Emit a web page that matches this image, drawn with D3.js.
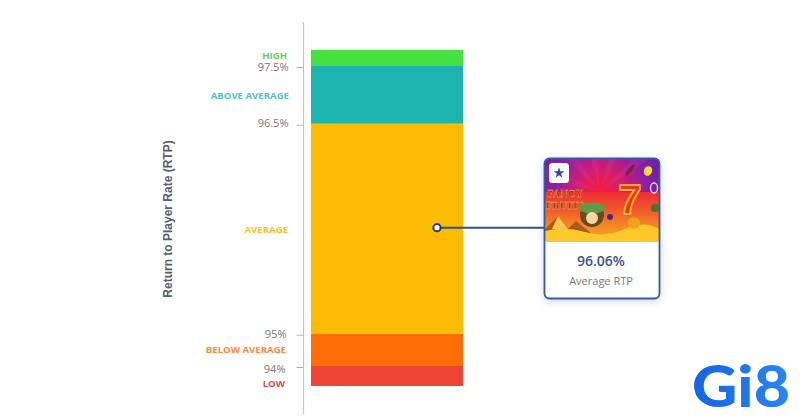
<!DOCTYPE html>
<html>
<head>
<meta charset="utf-8">
<script src="https://cdn.jsdelivr.net/npm/d3@7"></script>
<style>
html, body { margin: 0; padding: 0; background: #fff; overflow: hidden; }
text { font-family: "Open Sans", sans-serif; }
</style>
</head>
<body>
<svg id="chart" width="800" height="419"></svg>
<script>
// 画像から読み取った値
var bandNames = ["LOW", "BELOW AVERAGE", "AVERAGE", "ABOVE AVERAGE", "HIGH"];
var bandStart = [93.4, 94, 95, 96.5, 97.5];
var bandEnd = [94, 95, 96.5, 97.5, 97.8];
var bandColors = ["#ee4435", "#ff6d04", "#fcbc04", "#1eb4b0", "#47e043"];
var labelColors = ["#dc4a4a", "#f98a3a", "#f9bd2b", "#4cc4bf", "#62cf62"];
var tickValues = [94, 95, 96.5, 97.5];
var tickLabels = ["94%", "95%", "96.5%", "97.5%"];
var gameRtp = "96.06%";
var gameBand = "AVERAGE";

var svg = d3.select("#chart");
var defs = svg.append("defs");

// 目盛りが等間隔でないので区分線形にする
var y = d3.scaleLinear()
	.domain([93.4, 94, 95, 96.5, 97.5, 97.8])
	.range([386, 366, 333.7, 123.7, 66, 50]);
var x = d3.scaleBand().domain(["rtp"]).range([311, 463]);

// 帯
svg.selectAll("rect.band")
	.data(bandNames)
	.enter().append("rect")
	.attr("class", "band")
	.attr("x", x("rtp"))
	.attr("width", x.bandwidth())
	.attr("y", function (d, i) { return y(bandEnd[i]); })
	.attr("height", function (d, i) { return y(bandStart[i]) - y(bandEnd[i]); })
	.attr("fill", function (d, i) { return bandColors[i]; });

// 軸
var axis = d3.axisLeft(y)
	.tickValues(tickValues)
	.tickFormat(function (d, i) { return tickLabels[i]; })
	.tickSize(7)
	.tickPadding(8);
var axisG = svg.append("g")
	.attr("transform", "translate(303.5,1)")
	.call(axis);
axisG.select(".domain").remove();
axisG.selectAll("line").attr("stroke", "#b5b5b5");
// ラベルの位置の微調整
var tickShift = { "94%": [-3, 2], "95%": [-2, -1], "96.5%": [0, -1.5], "97.5%": [0, 0] };
axisG.selectAll("text")
	.attr("fill", "#777")
	.attr("transform", function (d, i) { return "translate(" + tickShift[tickLabels[i]].join(",") + ")"; })
	.style("font-size", "11px")
	.style("font-family", "'Open Sans', sans-serif");
svg.append("line")
	.attr("x1", 303.5).attr("x2", 303.5)
	.attr("y1", 22).attr("y2", 414)
	.attr("stroke", "#c4c4c4")
	.attr("stroke-width", 1.2);

// 帯の名前
var labelOffset = { "HIGH": [287, -2.5], "ABOVE AVERAGE": [289, 0.5], "AVERAGE": [288, 0.5], "BELOW AVERAGE": [286, -0.5], "LOW": [285, 7.5] };
svg.selectAll("text.band-label")
	.data(bandNames)
	.enter().append("text")
	.attr("class", "band-label")
	.attr("x", function (d) { return labelOffset[d][0]; })
	.attr("y", function (d, i) { return (y(bandStart[i]) + y(bandEnd[i])) / 2 + labelOffset[d][1]; })
	.attr("dy", "0.35em")
	.attr("text-anchor", "end")
	.attr("fill", function (d, i) { return labelColors[i]; })
	.style("font-size", "9.6px")
	.style("font-weight", 700)
	.text(function (d) { return d; });

// 軸タイトル
svg.append("text")
	.attr("transform", "translate(172,219) rotate(-90)")
	.attr("text-anchor", "middle")
	.attr("fill", "#56606e")
	.style("font-family", "'Liberation Sans', sans-serif")
	.style("font-size", "12px")
	.style("font-weight", 700)
	.text("Return to Player Rate (RTP)");

// マーカーと線
var gi = bandNames.indexOf(gameBand);
var markerY = (y(bandStart[gi]) + y(bandEnd[gi])) / 2 - 1;
svg.append("line")
	.attr("x1", 437).attr("x2", 545)
	.attr("y1", markerY).attr("y2", markerY)
	.attr("stroke", "#2f5292")
	.attr("stroke-width", 2);
svg.append("circle")
	.attr("cx", 437).attr("cy", markerY).attr("r", 3.6)
	.attr("fill", "#fff")
	.attr("stroke", "#1f3a6e")
	.attr("stroke-width", 2);

// カード
var shadow = defs.append("filter").attr("id", "shadow")
	.attr("x", "-20%").attr("y", "-20%").attr("width", "140%").attr("height", "140%");
shadow.append("feDropShadow")
	.attr("dx", 0).attr("dy", 2).attr("stdDeviation", 4)
	.attr("flood-color", "#3b5a9a").attr("flood-opacity", 0.3);

defs.append("clipPath").attr("id", "thumb-clip")
	.append("rect").attr("x", 545).attr("y", 159).attr("width", 114).attr("height", 83).attr("rx", 4);

var bg = defs.append("radialGradient").attr("id", "thumb-bg")
	.attr("gradientUnits", "userSpaceOnUse")
	.attr("cx", 600).attr("cy", 192).attr("r", 72);
[[0, "#f81c34"], [0.3, "#d81c6c"], [0.62, "#9020a0"], [1, "#5c20a8"]].forEach(function (s) {
	bg.append("stop").attr("offset", s[0]).attr("stop-color", s[1]);
});
var ground = defs.append("linearGradient").attr("id", "thumb-ground")
	.attr("x1", 0).attr("y1", 0).attr("x2", 0).attr("y2", 1);
[[0, "#ee2c34"], [0.3, "#f0522c"], [0.7, "#f58a28"], [1, "#f9a825"]].forEach(function (s) {
	ground.append("stop").attr("offset", s[0]).attr("stop-color", s[1]);
});

svg.append("rect")
	.attr("x", 544.5).attr("y", 158.5).attr("width", 115).attr("height", 140).attr("rx", 5)
	.attr("fill", "#fff")
	.attr("filter", "url(#shadow)");

var thumb = svg.append("g").attr("clip-path", "url(#thumb-clip)");
thumb.append("rect").attr("x", 545).attr("y", 159).attr("width", 114).attr("height", 83).attr("fill", "url(#thumb-bg)");
// 光線
d3.range(-165, -15, 30).forEach(function (deg) {
	var a0 = deg * Math.PI / 180, a1 = (deg + 11) * Math.PI / 180;
	thumb.append("path")
		.attr("d", "M600,192L" + (600 + 120 * Math.cos(a0)) + "," + (192 + 120 * Math.sin(a0)) +
			"L" + (600 + 120 * Math.cos(a1)) + "," + (192 + 120 * Math.sin(a1)) + "Z")
		.attr("fill", "#d060e0")
		.attr("opacity", 0.12);
});
thumb.append("rect").attr("x", 545).attr("y", 192).attr("width", 114).attr("height", 50).attr("fill", "url(#thumb-ground)");
// ピラミッド
thumb.append("path").attr("d", "M545,229L558,216L568,229L576,221L592,234L545,234Z").attr("fill", "#a85c1c");
thumb.append("path").attr("d", "M558,216L568,229L552,229Z").attr("fill", "#f7c548");
// 砂
thumb.append("path").attr("d", "M545,231Q565,226 585,232T625,229T659,229L659,242L545,242Z").attr("fill", "#fcc82a");
// タイトル
thumb.append("text").attr("x", 565).attr("y", 197).attr("text-anchor", "middle")
	.attr("fill", "#9c2420").attr("stroke", "#f7c060").attr("stroke-width", 0.3)
	.style("font-size", "10.5px").style("font-weight", 800).style("font-family", "'Liberation Serif', serif").text("FANCY");
thumb.append("text").attr("x", 565).attr("y", 209).attr("text-anchor", "middle")
	.attr("fill", "#9c2420").attr("stroke", "#f7c060").attr("stroke-width", 0.3)
	.style("font-size", "10.5px").style("font-weight", 800).style("font-family", "'Liberation Serif', serif").text("FRUITS");
// 7
thumb.append("text").attr("x", 630).attr("y", 214).attr("text-anchor", "middle")
	.attr("fill", "#e8381c").attr("stroke", "#fbc02a").attr("stroke-width", 1.6)
	.style("font-size", "42px").style("font-weight", 700).style("font-family", "'Liberation Sans', sans-serif").text("7");
// 果物
thumb.append("ellipse").attr("cx", 648).attr("cy", 171).attr("rx", 4).attr("ry", 5).attr("transform", "rotate(25 648 171)").attr("fill", "#f6dd3a");
thumb.append("ellipse").attr("cx", 630).attr("cy", 170).attr("rx", 2).attr("ry", 7).attr("transform", "rotate(40 630 170)").attr("fill", "#7e2430");
thumb.append("ellipse").attr("cx", 654).attr("cy", 188).attr("rx", 3.5).attr("ry", 5).attr("fill", "none").attr("stroke", "#e6e0f0").attr("stroke-width", 1.3);
thumb.append("circle").attr("cx", 655).attr("cy", 208).attr("r", 4).attr("fill", "#3e7a30");
thumb.append("circle").attr("cx", 634).attr("cy", 223).attr("r", 6).attr("fill", "#f2a21e");
thumb.append("circle").attr("cx", 610).attr("cy", 217).attr("r", 3).attr("fill", "#4a2a7a");
// 中央のバッジ
thumb.append("circle").attr("cx", 592).attr("cy", 215).attr("r", 12).attr("fill", "#6a4a22");
thumb.append("ellipse").attr("cx", 592).attr("cy", 208).attr("rx", 13).attr("ry", 5.5).attr("fill", "#5f9a44");
thumb.append("circle").attr("cx", 592).attr("cy", 218).attr("r", 6).attr("fill", "#f3d6a2");
// スターのバッジ
svg.append("rect").attr("x", 549).attr("y", 163).attr("width", 20).attr("height", 20).attr("rx", 3.5).attr("fill", "#fff");
svg.append("path")
	.attr("transform", "translate(559,173)")
	.attr("d", d3.symbol().type(d3.symbolStar).size(38)())
	.attr("fill", "#2f4f94");

// カードの枠と文字
svg.append("rect")
	.attr("x", 544.5).attr("y", 158.5).attr("width", 115).attr("height", 140).attr("rx", 5)
	.attr("fill", "none")
	.attr("stroke", "#3b5a9a")
	.attr("stroke-width", 1.8);
svg.append("text")
	.attr("x", 601).attr("y", 266)
	.attr("text-anchor", "middle")
	.attr("fill", "#3a5590")
	.style("font-size", "14px")
	.style("font-weight", 600)
	.text(gameRtp);
svg.append("text")
	.attr("x", 601).attr("y", 285)
	.attr("text-anchor", "middle")
	.attr("fill", "#777")
	.style("font-size", "11px")
	.text("Average RTP");

// ロゴ
var logoGrad = defs.append("linearGradient").attr("id", "logo-grad")
	.attr("x1", 0).attr("y1", 0).attr("x2", 1).attr("y2", 0);
logoGrad.append("stop").attr("offset", 0).attr("stop-color", "#1565e0");
logoGrad.append("stop").attr("offset", 1).attr("stop-color", "#2a86f0");
svg.append("text")
	.attr("x", 692).attr("y", 407)
	.attr("textLength", 98)
	.attr("lengthAdjust", "spacingAndGlyphs")
	.attr("fill", "url(#logo-grad)")
	.style("font-family", "Lato, sans-serif")
	.style("font-size", "58px")
	.style("font-weight", 900)
	.text("Gi8");
</script>
</body>
</html>
